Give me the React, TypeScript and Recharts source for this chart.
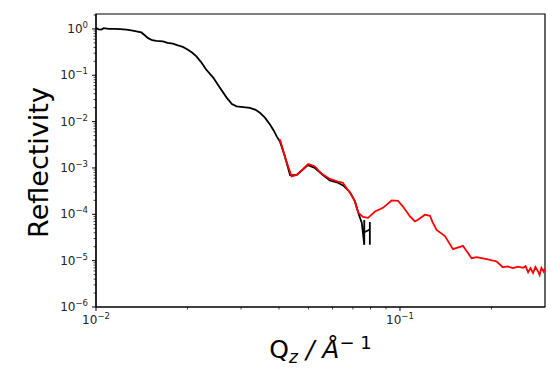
import { LineChart, Line, XAxis, YAxis, Label, ReferenceArea } from 'recharts';

// measured (black) curve
const blackQ = [
  0.0100, 0.0102, 0.0104, 0.0106, 0.0110, 0.0115, 0.0120, 0.0126, 0.0132, 0.0137,
  0.0141, 0.0145, 0.0148, 0.0153, 0.0158, 0.0166, 0.0172, 0.0179, 0.0186, 0.0193,
  0.0200, 0.0207, 0.0214, 0.0222, 0.0230, 0.0243, 0.0255, 0.0269, 0.0280, 0.0290,
  0.0305, 0.0321, 0.0335, 0.0346, 0.0360, 0.0374, 0.0385, 0.0393, 0.0403, 0.0418,
  0.0435, 0.0457, 0.0480, 0.0498, 0.0525, 0.0558, 0.0588, 0.0625, 0.0650, 0.0685,
  0.0711, 0.0729, 0.0749, 0.0763, 0.0763, 0.0763, 0.0796, 0.0796, 0.0796,
];
const blackR = [
  1.05, 0.98, 0.97, 1.04, 1.0, 1.0, 0.99, 0.97, 0.92, 0.88,
  0.84, 0.72, 0.64, 0.57, 0.55, 0.54, 0.5, 0.48, 0.44, 0.41,
  0.36, 0.31, 0.256, 0.19, 0.135, 0.089, 0.055, 0.033, 0.024, 0.0213,
  0.0205, 0.0197, 0.018, 0.0156, 0.012, 0.0086, 0.0063, 0.0048, 0.0037, 0.0018,
  7.0e-4, 7.0e-4, 9.3e-4, 1.15e-3, 1.0e-3, 7.0e-4, 5.4e-4, 4.8e-4, 4.2e-4, 3.0e-4,
  1.9e-4, 1.08e-4, 6.5e-5, 2.2e-5, 7.5e-5, 4.1e-5, 4.7e-5, 6.8e-5, 2.2e-5,
];

// fitted (red) curve
const redQ = [
  0.0403, 0.0420, 0.0440, 0.0457, 0.0480, 0.0499, 0.0512, 0.0525, 0.0540, 0.0558,
  0.0588, 0.0625, 0.0649, 0.0685, 0.0711, 0.0729, 0.0756, 0.0785, 0.0828, 0.0879,
  0.0939, 0.0985, 0.1023, 0.1079, 0.1120, 0.1146, 0.1208, 0.1255, 0.1280, 0.1320,
  0.1406, 0.1494, 0.1611, 0.1720, 0.1788, 0.1928, 0.2080, 0.2180, 0.2260, 0.2350,
  0.2450, 0.2540, 0.2590, 0.2640, 0.2690, 0.2740, 0.2790, 0.2840, 0.2880, 0.2920,
  0.2970, 0.3000,
];
const redR = [
  4.1e-3, 1.6e-3, 6.6e-4, 7.1e-4, 9.5e-4, 1.21e-3, 1.15e-3, 1.08e-3, 8.8e-4, 7.2e-4,
  5.8e-4, 5.1e-4, 4.8e-4, 2.9e-4, 1.9e-4, 1.08e-4, 8.8e-5, 8.4e-5, 1.15e-4, 1.38e-4,
  1.99e-4, 1.96e-4, 1.47e-4, 9.0e-5, 7.0e-5, 7.6e-5, 9.8e-5, 9.3e-5, 6.8e-5, 4.6e-5,
  3.4e-5, 1.77e-5, 2.09e-5, 1.13e-5, 1.19e-5, 1.08e-5, 9.6e-6, 7.2e-6, 7.5e-6, 6.9e-6,
  7.4e-6, 7.0e-6, 7.6e-6, 5.6e-6, 6.9e-6, 5.4e-6, 7.3e-6, 6.0e-6, 4.9e-6, 7.0e-6,
  5.8e-6, 6.8e-6,
];

const X_MAJOR = [0.01, 0.1];
const X_MINOR = [0.02, 0.03, 0.04, 0.05, 0.06, 0.07, 0.08, 0.09, 0.2];
const Y_MAJOR = [1e-6, 1e-5, 1e-4, 1e-3, 1e-2, 1e-1, 1];
const Y_MANTISSA = [2, 3, 4, 5, 6, 7, 8, 9];

const X_DOMAIN = [0.01, 0.3];
const Y_DOMAIN = [1e-6, 2.1];

const FONT = 'DejaVu Sans';

const blackData = blackQ.map((q, i) => ({ q, r: blackR[i] }));
const redData = redQ.map((q, i) => ({ q, r: redR[i] }));

const yMinor: number[] = [];
Y_MAJOR.forEach((m) => Y_MANTISSA.forEach((k) => {
  const v = m * k;
  if (v < Y_DOMAIN[1]) yMinor.push(v);
}));

function isMajor(v: number, list: number[]) {
  return list.some((m) => Math.abs(v - m) / m < 1e-6);
}

function expText(v: number) {
  const e = Math.round(Math.log10(v));
  return e < 0 ? `\u2212${-e}` : `${e}`;
}

function XTick({ x, y, payload }: any) {
  const v = payload.value;
  const major = isMajor(v, X_MAJOR);
  return (
    <g>
      <line x1={x} x2={x} y1={y} y2={y + (major ? 4 : 2.5)} stroke="#000" strokeWidth={major ? 1 : 0.7} />
      {major && (
        <text x={x} y={y + 17} textAnchor="middle" fontFamily={FONT} fontSize={12} fill="#222">
          10<tspan dy={-5} fontSize={8.5}>{expText(v)}</tspan>
        </text>
      )}
    </g>
  );
}

function YTick({ x, y, payload }: any) {
  const v = payload.value;
  const major = isMajor(v, Y_MAJOR);
  return (
    <g>
      <line x1={x - (major ? 4 : 2.5)} x2={x} y1={y} y2={y} stroke="#000" strokeWidth={major ? 1 : 0.7} />
      {major && (
        <text x={x - 8} y={y + 4} textAnchor="end" fontFamily={FONT} fontSize={12} fill="#222">
          10<tspan dy={-5} fontSize={8.5}>{expText(v)}</tspan>
        </text>
      )}
    </g>
  );
}

function XTitle({ viewBox }: any) {
  const cx = viewBox.x + viewBox.width / 2;
  return (
    <text x={cx} y={viewBox.y + 51} textAnchor="middle" fontFamily={FONT} fontSize={25} fill="#000">
      Q<tspan dy={5} fontSize={17} fontStyle="italic">z</tspan>
      <tspan dy={-5} fontStyle="italic"> / Å</tspan>
      <tspan dy={-9} fontSize={18}>{'\u2212 1'}</tspan>
    </text>
  );
}

function YTitle({ viewBox }: any) {
  const cy = viewBox.y + viewBox.height / 2 + 2;
  return (
    <text
      x={48}
      y={cy}
      transform={`rotate(-90, 48, ${cy})`}
      textAnchor="middle"
      fontFamily={FONT}
      fontSize={27}
      fill="#000"
    >
      Reflectivity
    </text>
  );
}

export default function App() {
  return (
    <div style={{ position: 'absolute', left: 0, top: 0, background: '#fff' }}>
      <LineChart width={552} height={376} margin={{ top: 14, right: 7, bottom: 39, left: 36 }}>
        <XAxis
          dataKey="q"
          type="number"
          scale="log"
          domain={X_DOMAIN}
          allowDataOverflow
          ticks={[...X_MAJOR, ...X_MINOR]}
          interval={0}
          tick={<XTick />}
          tickLine={false}
          tickSize={0}
          tickMargin={0}
          height={30}
          axisLine={{ stroke: '#000', strokeWidth: 1.2 }}
        >
          <Label content={<XTitle />} />
        </XAxis>
        <YAxis
          type="number"
          scale="log"
          domain={Y_DOMAIN}
          allowDataOverflow
          ticks={[...Y_MAJOR, ...yMinor]}
          interval={0}
          tick={<YTick />}
          tickLine={false}
          tickSize={0}
          tickMargin={0}
          width={60}
          axisLine={{ stroke: '#000', strokeWidth: 1.2 }}
        >
          <Label content={<YTitle />} />
        </YAxis>
        {/* frame around the plot area */}
        <ReferenceArea
          x1={X_DOMAIN[0]}
          x2={X_DOMAIN[1]}
          y1={Y_DOMAIN[0]}
          y2={Y_DOMAIN[1]}
          fill="none"
          fillOpacity={0}
          stroke="#000"
          strokeWidth={1.2}
          ifOverflow="visible"
        />
        <Line
          data={blackData}
          dataKey="r"
          type="linear"
          stroke="#000"
          strokeWidth={1.8}
          dot={false}
          isAnimationActive={false}
        />
        <Line
          data={redData}
          dataKey="r"
          type="linear"
          stroke="#ff0000"
          strokeWidth={1.8}
          dot={false}
          isAnimationActive={false}
        />
      </LineChart>
    </div>
  );
}
